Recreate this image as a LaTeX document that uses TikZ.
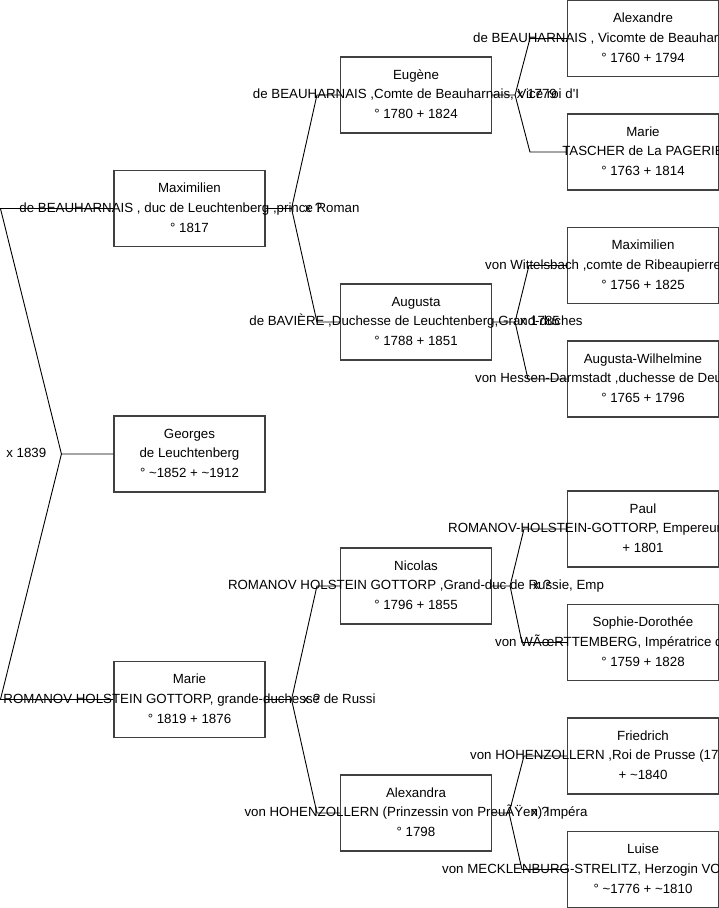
\documentclass[tikz,border=0pt]{standalone}
\usepackage{fontspec}
\setmainfont{Liberation Sans}
\usetikzlibrary{calc}

\tikzset{
  person/.style={draw=black!75, line width=1.1pt, minimum width=151pt,
    minimum height=76pt, inner sep=0pt},
  txt/.style={font=\fontsize{13.3}{20}\selectfont, inner sep=0pt, anchor=base},
  wed/.style={font=\fontsize{13.3}{20}\selectfont, inner sep=0pt,
    anchor=base east, yshift=-3.5pt},
  link/.style={draw=black, line width=0.9pt}
}

% box with three lines: name, second line, dates
\newcommand{\persona}[5]{%
  \node[person] (#1) at (#2) {};
  \node[txt, yshift=16pt] at (#1) {#3};
  \node[txt, yshift=-3.5pt] at (#1) {#4};
  \node[txt, yshift=-23.5pt] at (#1) {#5};
}

\begin{document}
\begin{tikzpicture}[x=1pt, y=-1pt]
  \useasboundingbox (0,0) rectangle (719,908);
  \clip (0,0) rectangle (719,908);

  % first column
  \persona{maxim}{189.5,208.5}{Maximilien}{de BEAUHARNAIS , duc de Leuchtenberg ,prince Roman}{° 1817}
  \persona{georges}{189.5,454}{Georges}{de Leuchtenberg}{° \textasciitilde1852 + \textasciitilde1912}
  \persona{marie}{189.5,699.5}{Marie}{ROMANOV HOLSTEIN GOTTORP, grande-duchesse de Russi}{° 1819 + 1876}

  % second column
  \persona{eugene}{416,95}{Eugène}{de BEAUHARNAIS ,Comte de Beauharnais, Vice roi d\textquotesingle I}{° 1780 + 1824}
  \persona{augusta}{416,322}{Augusta}{de BAVIÈRE ,Duchesse de Leuchtenberg,Grand-duches}{° 1788 + 1851}
  \persona{nicolas}{416,586}{Nicolas}{ROMANOV HOLSTEIN GOTTORP ,Grand-duc de Russie, Emp}{° 1796 + 1855}
  \persona{alexandra}{416,813}{Alexandra}{von HOHENZOLLERN (Prinzessin von PreuÃŸen) Impéra}{° 1798}

  % third column
  \persona{alexandre}{643,38.5}{Alexandre}{}{° 1760 + 1794}
  \node[txt, anchor=base west, yshift=-3.5pt] at (473,38.5) {de BEAUHARNAIS , Vicomte de Beauharnais};
  \persona{tascher}{643,152}{Marie}{TASCHER de La PAGERIE}{° 1763 + 1814}
  \persona{wittels}{643,265.5}{Maximilien}{}{° 1756 + 1825}
  \node[txt, anchor=base west, yshift=-3.5pt] at (485,265.5) {von Wittelsbach ,comte de Ribeaupierre};
  \persona{hessen}{643,379}{Augusta-Wilhelmine}{}{° 1765 + 1796}
  \node[txt, anchor=base west, yshift=-3.5pt] at (475,379) {von Hessen-Darmstadt ,duchesse de Deux};
  \persona{paul}{643,529}{Paul}{}{+ 1801}
  \node[txt, anchor=base west, yshift=-3.5pt] at (448,529) {ROMANOV-HOLSTEIN-GOTTORP, Empereur};
  \persona{sophie}{643,642.5}{Sophie-Dorothée}{}{° 1759 + 1828}
  \node[txt, anchor=base west, yshift=-3.5pt] at (495,642.5) {von WÃœRTTEMBERG, Impératrice de};
  \persona{friedrich}{643,756}{Friedrich}{}{+ \textasciitilde1840}
  \node[txt, anchor=base west, yshift=-3.5pt] at (470,756) {von HOHENZOLLERN ,Roi de Prusse (1797};
  \persona{luise}{643,869.5}{Luise}{}{° \textasciitilde1776 + \textasciitilde1810}
  \node[txt, anchor=base west, yshift=-3.5pt] at (442,869.5) {von MECKLENBURG-STRELITZ, Herzogin VON};

  % junctions and elbows
  \coordinate (j0) at ($(georges.west)+(-52,0)$);
  \coordinate (e0a) at ($(maxim.west)+(-113,0)$);
  \coordinate (e0b) at ($(marie.west)+(-113,0)$);
  \coordinate (j1) at ($(maxim.east)+(26,0)$);
  \coordinate (e1a) at ($(eugene.west)+(-23,0)$);
  \coordinate (e1b) at ($(augusta.west)+(-23,0)$);
  \coordinate (j2) at ($(marie.east)+(26,0)$);
  \coordinate (e2a) at ($(nicolas.west)+(-23,0)$);
  \coordinate (e2b) at ($(alexandra.west)+(-23,0)$);
  \coordinate (j3) at ($(eugene.east)+(23,0)$);
  \coordinate (e3a) at ($(alexandre.west)+(-37,0)$);
  \coordinate (e3b) at ($(tascher.west)+(-37,0)$);
  \coordinate (j4) at ($(augusta.east)+(23,0)$);
  \coordinate (e4a) at ($(wittels.west)+(-38,0)$);
  \coordinate (e4b) at ($(hessen.west)+(-39,0)$);
  \coordinate (j5) at ($(nicolas.east)+(18,0)$);
  \coordinate (e5a) at ($(paul.west)+(-43,0)$);
  \coordinate (e5b) at ($(sophie.west)+(-45,0)$);
  \coordinate (j6) at ($(alexandra.east)+(17,0)$);
  \coordinate (e6a) at ($(friedrich.west)+(-43,0)$);
  \coordinate (e6b) at ($(luise.west)+(-45,0)$);

  % connectors
  \draw[link] (georges.west) -- (j0) -- (e0a) -- (maxim.west);
  \draw[link] (j0) -- (e0b) -- (marie.west);
  \draw[link] (maxim.east) -- (j1) -- (e1a) -- (eugene.west);
  \draw[link] (j1) -- (e1b) -- (augusta.west);
  \draw[link] (marie.east) -- (j2) -- (e2a) -- (nicolas.west);
  \draw[link] (j2) -- (e2b) -- (alexandra.west);
  \draw[link] (eugene.east) -- (j3) -- (e3a) -- (alexandre.west);
  \draw[link] (j3) -- (e3b) -- (tascher.west);
  \draw[link] (augusta.east) -- (j4) -- (e4a) -- (wittels.west);
  \draw[link] (j4) -- (e4b) -- (hessen.west);
  \draw[link] (nicolas.east) -- (j5) -- (e5a) -- (paul.west);
  \draw[link] (j5) -- (e5b) -- (sophie.west);
  \draw[link] (alexandra.east) -- (j6) -- (e6a) -- (friedrich.west);
  \draw[link] (j6) -- (e6b) -- (luise.west);

  % marriages
  \node[wed] at ($(j0)+(-15,0)$) {x 1839};
  \node[wed] at ($(j1)+(31,0)$) {x ?};
  \node[wed] at ($(j2)+(29,0)$) {x ?};
  \node[wed] at ($(j3)+(42,0)$) {x 1779};
  \node[wed] at ($(j4)+(45,0)$) {x 1785};
  \node[wed] at ($(j5)+(41,0)$) {x ?};
  \node[wed] at ($(j6)+(40,0)$) {x ?};
\end{tikzpicture}
\end{document}
